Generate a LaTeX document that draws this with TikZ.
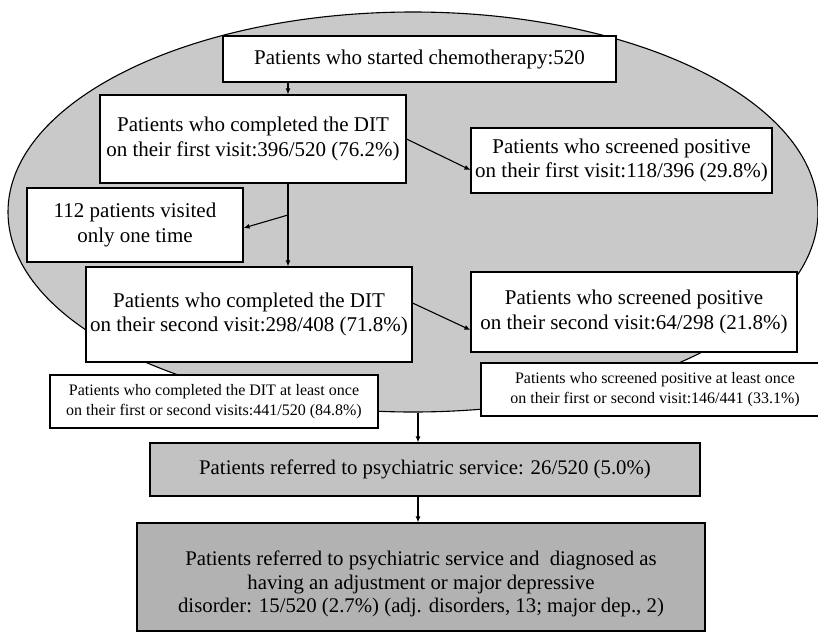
\documentclass[tikz,border=0pt]{standalone}
\usepackage{fontspec}
\setmainfont{Liberation Serif}
\usetikzlibrary{shapes.geometric,arrows.meta,calc}
\definecolor{ellgray}{gray}{0.79}
\definecolor{refgray}{gray}{0.76}
\definecolor{fingray}{gray}{0.70}
\begin{document}
\begin{tikzpicture}[x=1pt,y=-1pt,
  box/.style={draw=black,line width=1.1pt,fill=white,rectangle,inner sep=0pt,align=center,
              font=\fontsize{21}{24.5}\selectfont},
  smallbox/.style={box,font=\fontsize{16}{19.5}\selectfont},
  arr/.style={-{Latex[length=6pt,width=5pt]},line width=1.1pt},
  txt/.style={align=center,inner sep=0pt,font=\fontsize{20.8}{23.5}\selectfont}
  ]
\useasboundingbox (0,0) rectangle (818,632);
\fill[white] (0,0) rectangle (818,632);
\node[ellipse,draw=black,line width=1.1pt,fill=ellgray,minimum width=810pt,minimum height=400pt,inner sep=0pt] (ell) at (413,212) {};

\node[box,minimum width=393pt,minimum height=46pt] (start) at (419.5,59) {Patients who started chemotherapy:520};
\node[box,minimum width=306pt,minimum height=88pt] (dit1) at (253,139) {Patients who completed the DIT\\on their first visit:396/520 (76.2\%)};
\node[box,minimum width=301pt,minimum height=65pt] (scr1) at (621.5,160.5) {Patients who screened positive\\on their first visit:118/396 (29.8\%)};
\node[box,minimum width=216pt,minimum height=74pt] (one) at (135,225) {112 patients visited\\only one time};
\node[box,minimum width=326pt,minimum height=95pt] (dit2) at (249,314.5) {Patients who completed the DIT\\on their second visit:298/408 (71.8\%)};
\node[box,minimum width=326pt,minimum height=80pt] (scr2) at (634,312) {Patients who screened positive\\on their second visit:64/298 (21.8\%)};
\node[smallbox,minimum width=328pt,minimum height=53pt] (least1) at (214,401.5) {Patients who completed the DIT at least once\\on their first or second visits:441/520 (84.8\%)};
\node[smallbox,minimum width=348pt,minimum height=53pt] (least2) at (655,389.5) {Patients who screened positive at least once\\on their first or second visit:146/441 (33.1\%)};

\node[box,fill=refgray,minimum width=550pt,minimum height=53pt,font=\fontsize{20.8}{23.5}\selectfont] (ref) at (425,469.5) {Patients referred to psychiatric service: 26/520 (5.0\%)};
\node[box,fill=fingray,minimum width=568pt,minimum height=108pt] (final) at (421,577) {};
\node[txt] (finaltxt) at (421,584) {Patients referred to psychiatric service and\ \ diagnosed as\\having an adjustment or major depressive\\disorder: 15/520 (2.7\%) (adj. disorders, 13; major dep., 2)};

\coordinate (cx1) at (288,0);
\coordinate (cx2) at (418,0);
\coordinate (br) at (288,215);

\draw[arr] (start.south -| cx1) -- (dit1.north -| cx1);
\draw[arr] (dit1.south -| cx1) -- (dit2.north -| cx1);
\draw[arr] (br) -- ([yshift=-3pt]one.east);
\draw[arr] (dit1.east) -- ([yshift=-9.5pt]scr1.west);
\draw[arr] ([yshift=11.5pt]dit2.east) -- ([yshift=-18pt]scr2.west);
\draw[arr] (ell.south -| cx2) -- (ref.north -| cx2);
\draw[arr] (ref.south -| cx2) -- (final.north -| cx2);
\end{tikzpicture}
\end{document}
